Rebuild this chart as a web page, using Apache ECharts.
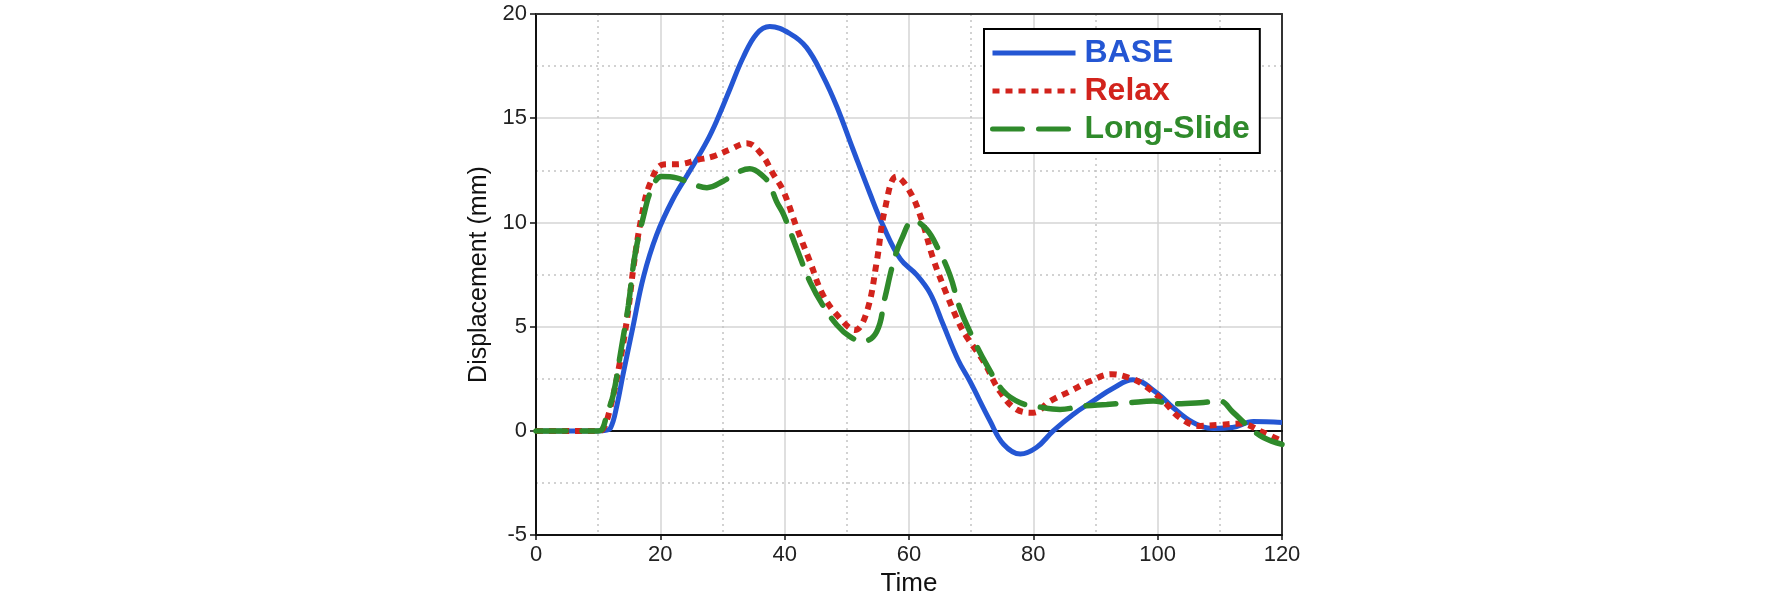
<!DOCTYPE html>
<html>
<head>
<meta charset="utf-8">
<title>Displacement</title>
<script src="https://cdn.jsdelivr.net/npm/echarts@6/dist/echarts.min.js"></script>
<style>
  html, body { margin: 0; padding: 0; background: #fff; }
  #main { width: 1772px; height: 602px; }
</style>
</head>
<body>
<div id="main"></div>
<script>
// series names
var seriesNames = ['BASE', 'Relax', 'Long-Slide'];

// BASE
var baseTime = [0, 5, 10, 11, 12, 13, 14, 15.6, 17.3, 19.4, 22, 24.8, 27.5, 29.1, 31.2, 33.3, 35.5, 37.6, 40.9, 43.5, 46.2, 48.4, 51, 53.7, 55.9, 58.6, 61.2, 63.4, 65.5, 67.9, 69.8, 73, 75.2, 77.9, 80.5, 83.2, 86.4, 89.6, 92.9, 96, 99.9, 102.5, 105.7, 108.9, 112, 115.4, 120];
var baseDisp = [0, 0, 0, 0.02, 0.15, 1.2, 2.7, 5.0, 7.4, 9.4, 11.1, 12.5, 13.9, 14.9, 16.4, 17.9, 19.05, 19.4, 19.05, 18.4, 17.0, 15.55, 13.5, 11.4, 9.8, 8.25, 7.5, 6.6, 5.1, 3.4, 2.38, 0.5, -0.64, -1.11, -0.8, 0, 0.79, 1.43, 2.06, 2.45, 1.82, 1.11, 0.4, 0.12, 0.16, 0.45, 0.4];

// Relax
var relaxTime = [0, 5, 10, 10.8, 11.9, 13.5, 14.8, 15.7, 17, 18.4, 20.5, 23.2, 25.9, 28.5, 31.2, 33.9, 36.2, 38.2, 39.8, 42, 44.1, 46.2, 48.9, 51.3, 53.2, 54.8, 56.1, 58, 60.1, 62, 63.9, 66, 68, 69.3, 72, 74.6, 77.3, 80, 82.7, 85.9, 89.1, 92.6, 95.5, 97.7, 100.9, 103.6, 106.8, 110, 113.2, 117, 120];
var relaxDisp = [0, 0, 0, 0.1, 1.05, 3.3, 5.7, 7.9, 10.3, 11.9, 12.78, 12.8, 13.0, 13.17, 13.5, 13.8, 13.3, 12.3, 11.5, 9.7, 8.1, 6.5, 5.4, 4.84, 5.7, 8.1, 10.6, 12.2, 11.5, 10.16, 8.25, 6.6, 5.2, 4.5, 3.33, 1.9, 1.03, 0.87, 1.43, 1.9, 2.38, 2.72, 2.54, 2.22, 1.43, 0.63, 0.24, 0.29, 0.35, -0.08, -0.5];

// Long-Slide
var slideTime = [0, 5, 10, 10.7, 11.4, 12.4, 13.8, 14.85, 15.9, 17.3, 18.6, 20.2, 22.6, 24.8, 27.5, 30.1, 32.3, 34.4, 36.6, 37.6, 38.7, 39.8, 42, 44.1, 46.2, 48.4, 50.5, 52.6, 54.8, 56.1, 57.5, 58.8, 60.7, 62.8, 64.7, 66.6, 68.2, 70.3, 72.5, 75.2, 77.9, 81.1, 84.3, 88, 91.8, 95.5, 99.3, 102.5, 106.8, 110, 112.1, 114.8, 117, 120];
var slideDisp = [0, 0, 0, 0.1, 0.8, 1.7, 4.1, 6.0, 8.4, 10.3, 11.6, 12.2, 12.14, 11.9, 11.67, 11.98, 12.38, 12.57, 12.2, 11.8, 11.0, 10.4, 8.7, 7.14, 6.0, 5.08, 4.52, 4.29, 4.76, 6.35, 8.1, 9.2, 10.08, 9.68, 8.73, 7.46, 5.87, 4.44, 3.17, 1.9, 1.35, 1.14, 1.03, 1.19, 1.27, 1.35, 1.43, 1.3, 1.35, 1.43, 0.9, 0.16, -0.32, -0.65];

// ticks: min, max, step
var xTicks = [0, 120, 20];
var yTicks = [-5, 20, 5];

var colors = ['#2456d3', '#d2231c', '#2f8a2b'];
var fontFam = 'Arial, "Liberation Sans", sans-serif';

function zip(xs, ys) {
    var out = [];
    for (var i = 0; i < xs.length; i++) out.push([xs[i], ys[i]]);
    return out;
}

// plain axis used only for a frame line (top/right) or the zero line
function frameAxis(pos, onZero, range) {
    return {
        type: 'value',
        min: range[0], max: range[1],
        position: pos,
        axisLine: { show: true, onZero: onZero, lineStyle: { color: onZero ? '#111' : '#333', width: 2 } },
        axisTick: { show: false },
        axisLabel: { show: false },
        splitLine: { show: false }
    };
}

var myChart = echarts.init(document.getElementById('main'));

var option = {
    backgroundColor: '#fff',
    animation: false,
    grid: {
        left: 536, top: 14, right: 490, bottom: 64
    },
    legend: {
        left: 984, top: 29,
        orient: 'vertical',
        align: 'left',
        backgroundColor: '#fff',
        borderColor: '#000',
        borderWidth: 2,
        padding: [7, 10, 7, 6],
        itemWidth: 83,
        itemHeight: 14,
        itemGap: 4,
        itemStyle: { opacity: 0 },
        lineStyle: { width: 5 },
        textStyle: { fontSize: 32, fontWeight: 'bold', fontFamily: fontFam, lineHeight: 34, padding: [0, 0, 0, 4] },
        data: [
            { name: seriesNames[0], textStyle: { color: colors[0] } },
            { name: seriesNames[1], textStyle: { color: colors[1] } },
            { name: seriesNames[2], textStyle: { color: colors[2] } }
        ]
    },
    xAxis: [{
        type: 'value',
        min: xTicks[0], max: xTicks[1], interval: xTicks[2],
        name: 'Time',
        nameLocation: 'middle',
        nameGap: 34,
        nameTextStyle: { fontSize: 26, color: '#111', fontFamily: fontFam },
        axisLine: { onZero: false, lineStyle: { color: '#111', width: 2 } },
        axisTick: { show: true, length: 5, lineStyle: { color: '#111', width: 1.5 } },
        axisLabel: { fontSize: 22, color: '#222', margin: 9, fontFamily: fontFam },
        splitLine: { show: true, lineStyle: { color: '#d4d4d4', width: 1.5 } },
        minorTick: { show: false, splitNumber: 2 },
        minorSplitLine: { show: true, lineStyle: { color: '#c4c4c4', width: 1.5, type: [2, 4] } }
    },
    frameAxis('bottom', true, [xTicks[0], xTicks[1]]),
    frameAxis('top', false, [xTicks[0], xTicks[1]])
    ],
    yAxis: [{
        type: 'value',
        min: yTicks[0], max: yTicks[1], interval: yTicks[2],
        name: 'Displacement (mm)',
        nameLocation: 'middle',
        nameGap: 44,
        nameTextStyle: { fontSize: 25, color: '#111', fontFamily: fontFam },
        axisLine: { show: true, onZero: false, lineStyle: { color: '#111', width: 2 } },
        axisTick: { show: true, length: 6, lineStyle: { color: '#111', width: 1.5 } },
        axisLabel: { fontSize: 22, color: '#222', margin: 9, fontFamily: fontFam },
        splitLine: { show: true, lineStyle: { color: '#d4d4d4', width: 1.5 } },
        minorTick: { show: false, splitNumber: 2 },
        minorSplitLine: { show: true, lineStyle: { color: '#c4c4c4', width: 1.5, type: [2, 4] } }
    },
    frameAxis('right', false, [yTicks[0], yTicks[1]])
    ],
    series: [
        {
            name: seriesNames[0], type: 'line', smooth: 0.4, symbol: 'none',
            data: zip(baseTime, baseDisp),
            lineStyle: { color: colors[0], width: 5 },
            itemStyle: { color: colors[0] }
        },
        {
            name: seriesNames[1], type: 'line', smooth: 0.4, symbol: 'none',
            data: zip(relaxTime, relaxDisp),
            lineStyle: { color: colors[1], width: 6, type: [7, 6] },
            itemStyle: { color: colors[1] }
        },
        {
            name: seriesNames[2], type: 'line', smooth: 0.4, symbol: 'none',
            data: zip(slideTime, slideDisp),
            lineStyle: { color: colors[2], width: 5.5, type: [30, 16], cap: 'round' },
            itemStyle: { color: colors[2] }
        }
    ]
};

myChart.setOption(option);
</script>
</body>
</html>
